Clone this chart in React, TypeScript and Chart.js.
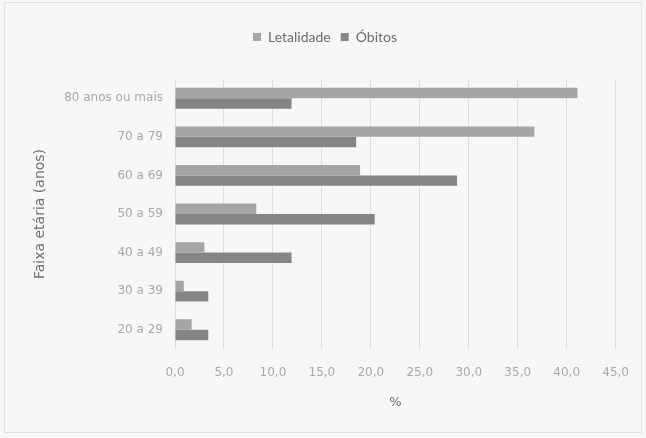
import React, { useEffect, useRef } from "react";
import { Chart, registerables } from "chart.js";

Chart.register(...registerables);

const categories = ["80 anos ou mais", "70 a 79", "60 a 69", "50 a 59", "40 a 49", "30 a 39", "20 a 29"];
const letalidade = [41.1, 36.7, 18.9, 8.3, 3.0, 0.9, 1.7];
const obitos = [11.9, 18.5, 28.8, 20.4, 11.9, 3.4, 3.4];
const xTicksMin = 0;
const xTicksMax = 45;
const xTickStep = 5;

const FONT = "Lato, 'Open Sans', sans-serif";
const WIDE = "'DejaVu Sans', sans-serif";

export default function App() {
  const ref = useRef<HTMLCanvasElement | null>(null);

  useEffect(() => {
    document.body.style.margin = "0";
    const bgPlugin = {
      id: "bg",
      beforeDraw(chart: any) {
        const { ctx, width, height } = chart;
        ctx.save();
        ctx.fillStyle = "#f7f7f7";
        ctx.fillRect(0, 0, width, height);
        ctx.strokeStyle = "#e2e2e2";
        ctx.lineWidth = 1;
        ctx.strokeRect(4.5, 2.5, width - 9, height - 8);
        ctx.restore();
      },
    };
    const legendPad = {
      id: "legendPad",
      beforeInit(chart: any) {
        const lg = chart.legend;
        if (lg) {
          const orig = lg.fit;
          lg.fit = function () {
            orig.call(this);
            this.height += 25;
          };
        }
      },
    };
    const chart = new Chart(ref.current as HTMLCanvasElement, {
      type: "bar",
      data: {
        labels: categories,
        datasets: [
          { label: "Letalidade", data: letalidade, backgroundColor: "#a5a5a5" },
          { label: "Óbitos", data: obitos, backgroundColor: "#858585" },
        ],
      },
      options: {
        indexAxis: "y",
        animation: false,
        responsive: false,
        maintainAspectRatio: false,
        layout: { padding: { left: 28, right: 24, top: 20, bottom: 24 } },
        datasets: { bar: { categoryPercentage: 0.54, barPercentage: 1 } },
        plugins: {
          tooltip: { enabled: false },
          legend: {
            position: "top",
            labels: {
              boxWidth: 8,
              boxHeight: 8,
              padding: 10,
              color: "#6b6b6b",
              font: { family: FONT, size: 14 },
            },
          },
        },
        scales: {
          x: {
            min: xTicksMin,
            max: xTicksMax,
            ticks: {
              stepSize: xTickStep,
              color: "#a8a8a8",
              padding: 17,
              font: { family: WIDE, size: 12 },
              callback: (v: any) => Number(v).toFixed(1).replace(".", ","),
            },
            grid: { color: "#dedede", drawTicks: false },
            border: { display: false },
            title: { display: true, text: "%", color: "#707070", font: { family: WIDE, size: 13 } },
            afterFit(scale: any) {
              scale.height = 65;
            },
          },
          y: {
            ticks: { color: "#a8a8a8", padding: 12, font: { family: WIDE, size: 12 } },
            grid: { display: false, drawTicks: false },
            border: { display: false },
            title: {
              display: true,
              text: "Faixa etária (anos)",
              color: "#707070",
              font: { family: WIDE, size: 14 },
            },
            afterFit(scale: any) {
              scale.width = 147;
            },
          },
        },
      },
      plugins: [bgPlugin, legendPad],
    });
    return () => chart.destroy();
  }, []);

  return (
    <div style={{ position: "absolute", left: 0, top: 0, width: 646, height: 438 }}>
      <canvas ref={ref} width={646} height={438} />
    </div>
  );
}
